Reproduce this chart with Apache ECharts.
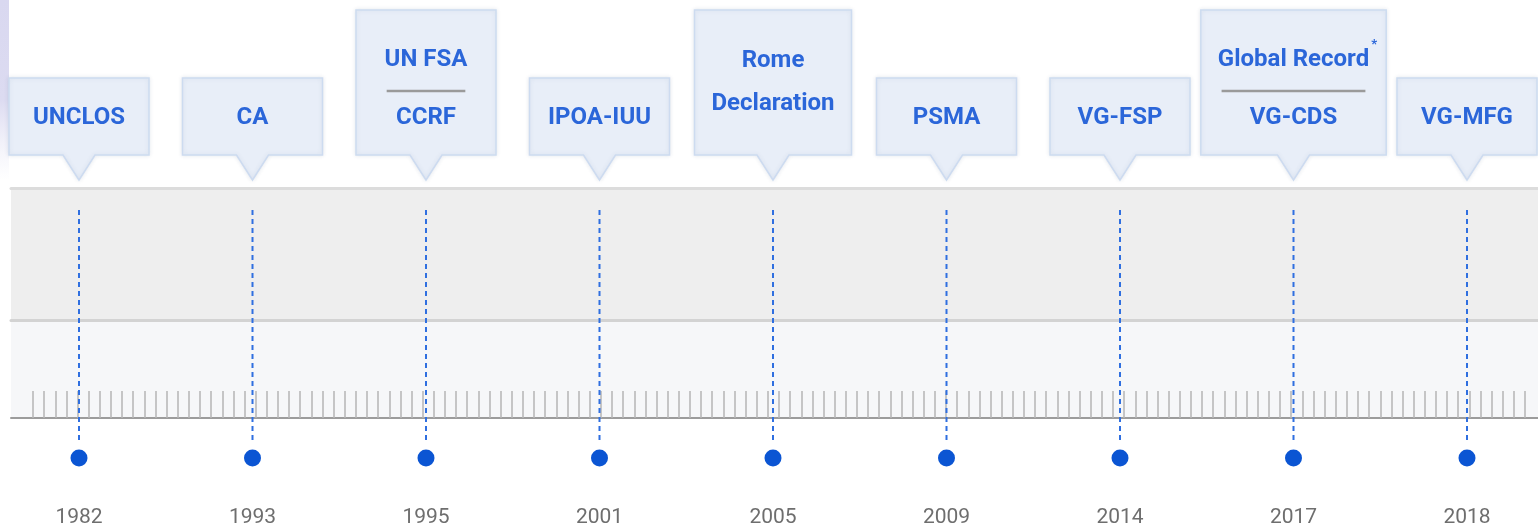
<!DOCTYPE html>
<html>
<head>
<meta charset="utf-8">
<script src="https://cdn.jsdelivr.net/npm/echarts@6/dist/echarts.min.js"></script>
<style>
  html, body { margin: 0; padding: 0; background: #fff; }
  #chart { width: 1538px; height: 529px; }
</style>
</head>
<body>
<div id="chart"></div>
<script>
// timeline data: year of each instrument and the label in its callout
// '|' splits two instruments adopted together (drawn with a divider), '\n' wraps one name
const years = ['1982', '1993', '1995', '2001', '2005', '2009', '2014', '2017', '2018']
const instruments = [
  'UNCLOS',
  'CA',
  'UN FSA|CCRF',
  'IPOA-IUU',
  'Rome\nDeclaration',
  'PSMA',
  'VG-FSP',
  'Global Record*|VG-CDS',
  'VG-MFG',
]
const rulerSteps = 134

const blue = '#2b66d9'
const boxFont = 'bold 24px Roboto'

const measure = (() => {
  const ctx = document.createElement('canvas').getContext('2d')
  return (txt, font) => {
    ctx.font = font
    return ctx.measureText(txt).width
  }
})()

const hiddenY = (gridIndex) => ({ gridIndex, type: 'value', show: false, min: 0, max: 1 })
const lineAxis = (gridIndex, position, color, width) => ({
  gridIndex,
  type: 'value',
  position,
  min: 0,
  max: 1,
  axisLine: { show: true, onZero: false, lineStyle: { color, width } },
  axisTick: { show: false },
  axisLabel: { show: false },
  splitLine: { show: false },
})

const textEl = (text, x, y) => ({
  type: 'text',
  style: { text, x, y, align: 'center', verticalAlign: 'middle', font: boxFont, fill: blue },
})

const renderCallout = (params, api) => {
  const i = api.value(0)
  const [x, y0] = api.coord([i, 0])
  const label = instruments[i]
  const split = label.includes('|')
  const lines = label.split(/[|\n]/)
  const tall = lines.length > 1
  const textW = Math.max(...lines.map((l) => measure(l.replace('*', ''), boxFont)))
  const w = Math.max(140, textW + 34)
  const bottom = y0 - 303
  const top = tall ? y0 - 448 : y0 - 380
  const left = x - w / 2
  const right = x + w / 2
  const children = []

  children.push({
    type: 'line',
    shape: { x1: x, y1: y0 - 18, x2: x, y2: y0 - 250 },
    style: { stroke: '#2f6fe0', lineWidth: 2, lineDash: [5, 4] },
  })
  children.push({
    type: 'polygon',
    shape: {
      points: [
        [left, top], [right, top], [right, bottom],
        [x + 16, bottom], [x, bottom + 25], [x - 16, bottom], [left, bottom],
      ],
    },
    style: {
      fill: '#e8eef8',
      stroke: '#cddbf0',
      lineWidth: 1.5,
      shadowBlur: 4,
      shadowColor: 'rgba(60,80,120,0.12)',
    },
  })

  if (!tall) {
    children.push(textEl(lines[0], x, y0 - 340))
  } else if (split) {
    const first = lines[0].replace('*', '')
    children.push(textEl(first, x, y0 - 398))
    if (lines[0].endsWith('*')) {
      const fw = measure(first, boxFont)
      children.push({
        type: 'text',
        style: { text: '*', x: x + fw / 2 + 2, y: y0 - 413, align: 'left', verticalAlign: 'middle', font: 'bold 13px Roboto', fill: blue },
      })
    }
    const dw = measure(first, boxFont) * 0.95
    children.push({
      type: 'line',
      shape: { x1: x - dw / 2, y1: y0 - 367, x2: x + dw / 2, y2: y0 - 367 },
      style: { stroke: '#9a9a9a', lineWidth: 2.5 },
    })
    children.push(textEl(lines[1], x, y0 - 340))
  } else {
    const mid = (top + bottom) / 2
    children.push(textEl(lines[0], x, mid - 22))
    children.push(textEl(lines[1], x, mid + 21))
  }
  return { type: 'group', children }
}

const chart = echarts.init(document.getElementById('chart'), null, { renderer: 'canvas' })

const option = {
  animation: false,
  backgroundColor: '#ffffff',
  graphic: [
    {
      type: 'rect',
      left: 0,
      top: 0,
      shape: { width: 9, height: 180 },
      style: {
        fill: new echarts.graphic.LinearGradient(0, 0, 0, 1, [
          { offset: 0, color: '#d9d8f0' },
          { offset: 0.55, color: '#dcdbf1' },
          { offset: 1, color: 'rgba(230,230,245,0)' },
        ]),
      },
    },
  ],
  grid: [
    { left: 11, right: 0, top: 188, height: 132, show: true, backgroundColor: '#eeeeee', borderWidth: 0 },
    { left: 11, right: 0, top: 320, height: 98, show: true, backgroundColor: '#f6f7f9', borderWidth: 0 },
    { left: 33, right: 13, top: 320, height: 98 },
    { left: 79, right: 71, top: 0, bottom: 71 },
  ],
  xAxis: [
    lineAxis(0, 'top', '#dcdcdc', 3),
    lineAxis(0, 'bottom', '#d3d3d3', 3),
    lineAxis(1, 'bottom', '#9c9c9c', 2),
    {
      gridIndex: 2,
      type: 'value',
      min: 0,
      max: rulerSteps,
      interval: 1,
      axisLine: { show: false },
      axisTick: { show: true, inside: true, length: 27, lineStyle: { color: '#b5b5b5', width: 1.5 } },
      axisLabel: { show: false },
      splitLine: { show: false },
    },
    {
      gridIndex: 3,
      type: 'category',
      data: years,
      boundaryGap: false,
      axisLine: { show: false },
      axisTick: { show: false },
      axisLabel: { margin: 49, color: '#6e6e6e', fontSize: 21, fontFamily: 'Roboto', fontWeight: 400 },
      splitLine: { show: false },
    },
  ],
  yAxis: [hiddenY(0), hiddenY(1), hiddenY(2), hiddenY(3)],
  series: [
    {
      type: 'custom',
      xAxisIndex: 4,
      yAxisIndex: 3,
      clip: false,
      renderItem: renderCallout,
      data: years.map((y, i) => [i, 0]),
      z: 3,
    },
    {
      type: 'scatter',
      xAxisIndex: 4,
      yAxisIndex: 3,
      clip: false,
      symbolSize: 17,
      itemStyle: { color: '#0b55d3', opacity: 1 },
      data: years.map((y, i) => [i, 0]),
      z: 4,
    },
  ],
}

chart.setOption(option)
</script>
</body>
</html>
